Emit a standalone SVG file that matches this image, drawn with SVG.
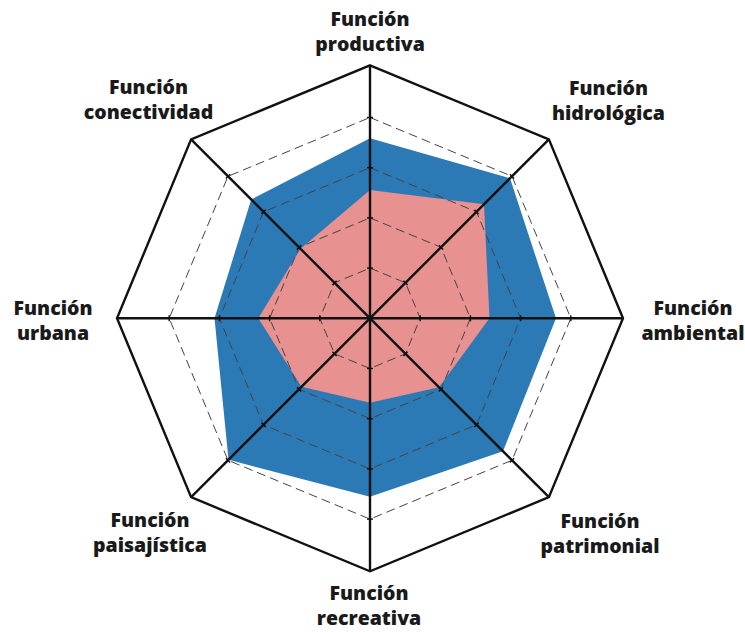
<svg xmlns="http://www.w3.org/2000/svg" xmlns:xlink="http://www.w3.org/1999/xlink" width="745" height="632" viewBox="0 0 745 632">
  <style>
    .lbl { font-family: "Open Sans", "Noto Sans", "Liberation Sans", sans-serif; font-weight: 800; font-size: 19.5px; fill: #1a1a1a; text-anchor: middle; }
    .grid { fill: none; stroke: #444; stroke-width: 1; stroke-dasharray: 9 5; }
    .axis { stroke: #111; stroke-width: 2.4; fill: none; }
    .tick { stroke: #111; stroke-width: 1.4; }
    .outer { fill: none; stroke: #111; stroke-width: 2.4; stroke-linejoin: miter; }
  </style>
  <defs>
    <g id="axisline">
      <line class="axis" x1="370" y1="65.3" x2="370" y2="571.3"/>
      <g class="tick">
        <line x1="367" y1="268.1" x2="373" y2="268.1"/>
        <line x1="367" y1="217.9" x2="373" y2="217.9"/>
        <line x1="367" y1="167.7" x2="373" y2="167.7"/>
        <line x1="367" y1="117.5" x2="373" y2="117.5"/>
        <line x1="367" y1="368.5" x2="373" y2="368.5"/>
        <line x1="367" y1="418.7" x2="373" y2="418.7"/>
        <line x1="367" y1="468.9" x2="373" y2="468.9"/>
        <line x1="367" y1="519.1" x2="373" y2="519.1"/>
      </g>
    </g>
  </defs>
  <rect width="745" height="632" fill="#ffffff"/>

  <g id="series">
    <polygon id="serie-azul" fill="#2b79b5" points="370,138.3 510,178.3 556,318.3 503,451.3 370,496.7 228.5,459.8 214.5,318.3 251.2,199.5"/>
    <polygon id="serie-rosa" fill="#e79190" points="370,190 484,204.3 489.5,318.3 439,387.3 370,402.7 301.5,386.8 258.3,318.3 300.5,248.8"/>
  </g>

  <g id="grid">
    <polygon class="grid" points="370,268.1 405.5,282.8 420.2,318.3 405.5,353.8 370,368.5 334.5,353.8 319.8,318.3 334.5,282.8"/>
    <polygon class="grid" points="370,217.9 441,247.3 470.4,318.3 441,389.3 370,418.7 299,389.3 269.6,318.3 299,247.3"/>
    <polygon class="grid" points="370,167.7 476.5,211.8 520.6,318.3 476.5,424.8 370,468.9 263.5,424.8 219.4,318.3 263.5,211.8"/>
    <polygon class="grid" points="370,117.5 512,176.3 570.8,318.3 512,460.3 370,519.1 228,460.3 169.2,318.3 228,176.3"/>
  </g>

  <g id="connectors">
    <use xlink:href="#axisline"/>
    <use xlink:href="#axisline" transform="rotate(45 370 318.3)"/>
    <use xlink:href="#axisline" transform="rotate(90 370 318.3)"/>
    <use xlink:href="#axisline" transform="rotate(135 370 318.3)"/>
    <polygon class="outer" points="370,65.3 548.9,139.4 623,318.3 548.9,497.2 370,571.3 191.1,497.2 117,318.3 191.1,139.4"/>
  </g>

  <g id="node-productiva"><text class="lbl" x="370" y="26">Función</text><text class="lbl" x="370" y="51">productiva</text></g>
  <g id="node-hidrologica"><text class="lbl" x="608.5" y="95">Función</text><text class="lbl" x="608.5" y="120">hidrológica</text></g>
  <g id="node-ambiental"><text class="lbl" x="693" y="315">Función</text><text class="lbl" x="693" y="340">ambiental</text></g>
  <g id="node-patrimonial"><text class="lbl" x="600" y="528">Función</text><text class="lbl" x="600" y="553">patrimonial</text></g>
  <g id="node-recreativa"><text class="lbl" x="369" y="600">Función</text><text class="lbl" x="369" y="625">recreativa</text></g>
  <g id="node-paisajistica"><text class="lbl" x="150" y="527">Función</text><text class="lbl" x="150" y="552">paisajística</text></g>
  <g id="node-urbana"><text class="lbl" x="53" y="315">Función</text><text class="lbl" x="53" y="340">urbana</text></g>
  <g id="node-conectividad"><text class="lbl" x="148.5" y="94">Función</text><text class="lbl" x="148.5" y="119">conectividad</text></g>
</svg>
